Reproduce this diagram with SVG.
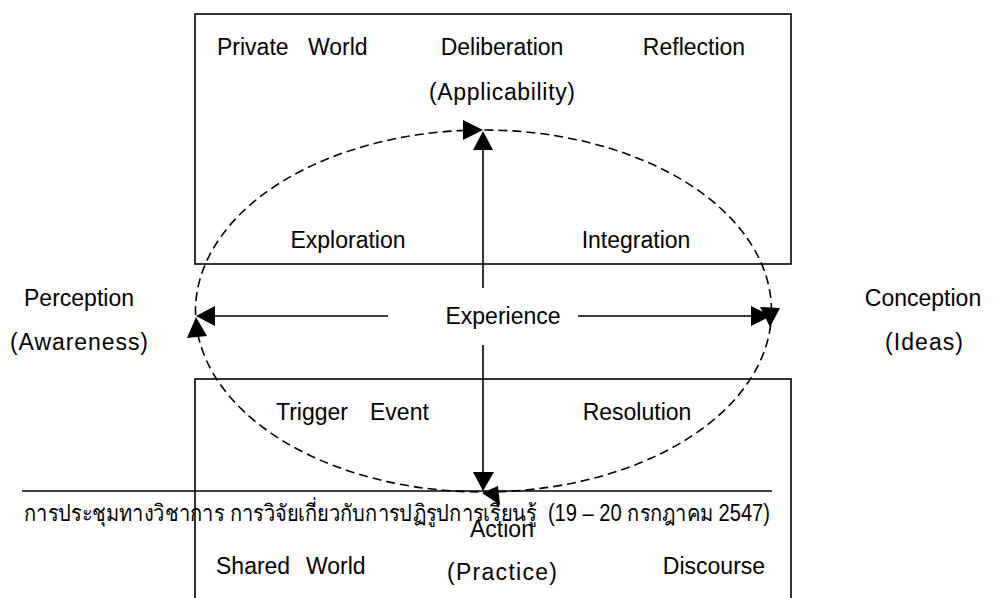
<svg xmlns="http://www.w3.org/2000/svg" width="995" height="598" viewBox="0 0 995 598">
<style>
.t{font-family:"Liberation Sans",Arial,sans-serif;font-size:23px;fill:#000}
.th{font-family:"Liberation Sans","Noto Sans",sans-serif;font-size:23px;fill:#000}
.box{fill:none;stroke:#000;stroke-width:1.6}
.ln{fill:none;stroke:#000;stroke-width:1.6}
.dash{fill:none;stroke:#000;stroke-width:1.6;stroke-dasharray:9 5}
.head{fill:#000;stroke:none}
</style>
<rect width="995" height="598" fill="#fff"/>
<g id="private-world">
<rect class="box" x="195" y="14" width="596" height="250"/>
<text class="t" x="217" y="55">Private</text>
<text class="t" x="308" y="55">World</text>
<text class="t" x="502" y="55" text-anchor="middle">Deliberation</text>
<text class="t" x="694" y="55" text-anchor="middle">Reflection</text>
<text class="t" x="502" y="100" text-anchor="middle" textLength="146" lengthAdjust="spacing">(Applicability)</text>
<text class="t" x="348" y="248" text-anchor="middle">Exploration</text>
<text class="t" x="636" y="248" text-anchor="middle">Integration</text>
</g>
<g id="shared-world">
<rect class="box" x="195" y="379" width="596" height="240"/>
<text class="t" x="276" y="420">Trigger</text>
<text class="t" x="370" y="420">Event</text>
<text class="t" x="637" y="420" text-anchor="middle">Resolution</text>
<text class="t" x="216" y="574">Shared</text>
<text class="t" x="306" y="574">World</text>
<text class="t" x="502" y="580" text-anchor="middle" textLength="110" lengthAdjust="spacing">(Practice)</text>
<text class="t" x="714" y="574" text-anchor="middle">Discourse</text>
</g>
<g id="perception">
<text class="t" x="79" y="306" text-anchor="middle">Perception</text>
<text class="t" x="79" y="350" text-anchor="middle" textLength="138" lengthAdjust="spacing">(Awareness)</text>
</g>
<g id="conception">
<text class="t" x="923" y="306" text-anchor="middle">Conception</text>
<text class="t" x="924" y="350" text-anchor="middle" textLength="78" lengthAdjust="spacing">(Ideas)</text>
</g>
<g id="experience">
<text class="t" x="503" y="324" text-anchor="middle">Experience</text>
</g>
<g id="connectors">
<ellipse class="dash" cx="483.5" cy="311" rx="288" ry="181"/>
<polygon class="head" points="483,130 463,120 463,140"/>
<polygon class="head" points="770,327 760,307 780,308"/>
<polygon class="head" points="482,493 498,486 500,505"/>
<polygon class="head" points="196,317 187,338 207,336"/>
<line class="ln" x1="483" y1="150" x2="483" y2="288"/>
<polygon class="head" points="483,131 473,150 493,150"/>
<line class="ln" x1="483" y1="345" x2="483" y2="473"/>
<polygon class="head" points="483,491 473,472 494,472"/>
<line class="ln" x1="388" y1="316" x2="214" y2="316"/>
<polygon class="head" points="196,316 215,306 215,326"/>
<line class="ln" x1="578" y1="316" x2="752" y2="316"/>
<polygon class="head" points="771,316 751,306 751,326"/>
</g>
<g id="footer">
<line class="ln" x1="22" y1="491" x2="772" y2="491"/>
<text class="th" x="24" y="521" textLength="746" lengthAdjust="spacingAndGlyphs" xml:space="preserve">การประชุมทางวิชาการ การวิจัยเกี่ยวกับการปฏิรูปการเรียนรู้  (19 – 20 กรกฎาคม 2547)</text>
<text class="t" x="502" y="537" text-anchor="middle">Action</text>
</g>
</svg>
